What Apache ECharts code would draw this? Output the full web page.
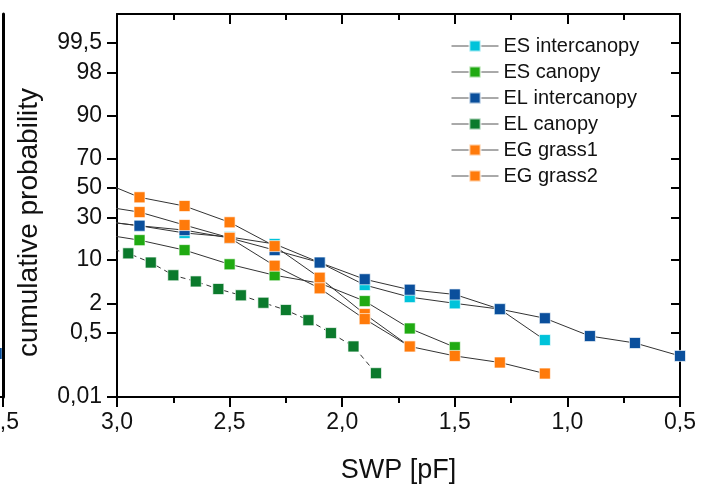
<!DOCTYPE html>
<html><head><meta charset="utf-8">
<script src="https://cdn.jsdelivr.net/npm/echarts@6/dist/echarts.min.js"></script>
<style>html,body{margin:0;padding:0;background:#fff}#c{width:713px;height:486px}</style>
</head><body><div id="c"></div>
<script>
// ---- data (cumulative probability in %, vs SWP in pF) ----
const seriesNames = ['ES intercanopy','ES canopy','EL intercanopy','EL canopy','EG grass1','EG grass2'];
const esInterX = [3.1,2.9,2.7,2.5,2.3,2.1,1.9,1.7,1.5,1.3,1.1];
const esInterP = [28.2,25.0,21.1,19.1,15.9,9.2,4.2,2.6,2.0,1.55,0.34];
const esCanX = [3.1,2.9,2.7,2.5,2.3,2.1,1.9,1.7,1.5];
const esCanP = [21.1,17.6,13.4,8.7,6.0,4.5,2.2,0.62,0.23];
const elInterX = [3.1,2.9,2.7,2.5,2.3,2.1,1.9,1.7,1.5,1.3,1.1,0.9,0.7,0.5];
const elInterP = [28.2,25.0,22.6,18.6,13.4,9.2,5.2,3.5,2.9,1.55,1.02,0.42,0.29,0.14];
const elCanX = [3.05,2.95,2.85,2.75,2.65,2.55,2.45,2.35,2.25,2.15,2.05,1.95,1.85];
const elCanP = [14.4,12.2,9.2,6.0,4.8,3.6,2.8,2.05,1.49,0.93,0.49,0.24,0.049];
const egGrass1X = [3.1,2.9,2.7,2.5,2.3,2.1,1.9,1.7,1.5,1.3,1.1];
const egGrass1P = [56.4,43.3,37.3,27.0,15.0,5.5,1.24,0.24,0.14,0.095,0.048];
const egGrass2X = [3.1,2.9,2.7,2.5,2.3,2.1,1.9,1.7];
const egGrass2P = [38.0,33.3,25.4,18.7,8.3,3.7,0.98,0.24];
// neighbouring (cropped) panel on the left edge
const neighborX = [0.53];
const neighborP = [0.16];
// ---- tick labels ----
const yTickP = [0.01,0.5,2,10,30,50,70,90,98,99.5];
const yTickLabels = ['0,01','0,5','2','10','30','50','70','90','98','99,5'];
const xTickValues = [0.5,1.0,1.5,2.0,2.5,3.0];
const xTickLabels = ['0,5','1,0','1,5','2,0','2,5','3,0'];
const yRangeP = [0.01, 99.9];
const xRange = [0.5, 3.0];

function probit(p){
  const a=[-3.969683028665376e+01,2.209460984245205e+02,-2.759285104469687e+02,1.383577518672690e+02,-3.066479806614716e+01,2.506628277459239e+00];
  const b=[-5.447609879822406e+01,1.615858368580409e+02,-1.556989798598866e+02,6.680131188771972e+01,-1.328068155288572e+01];
  const c=[-7.784894002430293e-03,-3.223964580411365e-01,-2.400758277161838e+00,-2.549671743506278e+00,4.374664141464968e+00,2.938163982698783e+00];
  const d=[7.784695709041462e-03,3.224671290700398e-01,2.445134137142996e+00,3.754408661907416e+00];
  const pl=0.02425, ph=1-pl; let q,r;
  if(p<pl){q=Math.sqrt(-2*Math.log(p));return (((((c[0]*q+c[1])*q+c[2])*q+c[3])*q+c[4])*q+c[5])/((((d[0]*q+d[1])*q+d[2])*q+d[3])*q+1);}
  if(p>ph){q=Math.sqrt(-2*Math.log(1-p));return -(((((c[0]*q+c[1])*q+c[2])*q+c[3])*q+c[4])*q+c[5])/((((d[0]*q+d[1])*q+d[2])*q+d[3])*q+1);}
  q=p-0.5;r=q*q;return (((((a[0]*r+a[1])*r+a[2])*r+a[3])*r+a[4])*r+a[5])*q/(((((b[0]*r+b[1])*r+b[2])*r+b[3])*r+b[4])*r+1);
}
const pts = (X,P) => X.map((x,i)=>[x, probit(P[i]/100)]);
const yTickZ = yTickP.map(p=>probit(p/100));
const yMin = probit(yRangeP[0]/100), yMax = probit(yRangeP[1]/100);
const yFmt = v => { let k=0,best=1e9; yTickZ.forEach((z,i)=>{const d=Math.abs(z-v); if(d<best){best=d;k=i;}}); return yTickLabels[k]; };
const xFmt = v => { let k=0,best=1e9; xTickValues.forEach((t,i)=>{const d=Math.abs(t-v); if(d<best){best=d;k=i;}}); return xTickLabels[k]; };

const FONT = 'Liberation Sans, Arial, sans-serif';
const AX = {onZero:false, lineStyle:{color:'#000', width:2}};
const colors = ['#00c3da','#20aa12','#0a4f9c','#0b7a2c','#ff7a0a','#ff7a0a'];
const dataSets = [pts(esInterX,esInterP),pts(esCanX,esCanP),pts(elInterX,elInterP),pts(elCanX,elCanP),pts(egGrass1X,egGrass1P),pts(egGrass2X,egGrass2P)];

const series = seriesNames.map((n,i)=>({
  name:n, type:'line', xAxisIndex:0, yAxisIndex:0, data:dataSets[i], clip:true,
  symbol:'rect', symbolSize:11, showSymbol:true,
  lineStyle:{color:'#333', width:1, type: i===3 ? [5,4] : 'solid'},
  itemStyle:{color:colors[i], borderColor:'rgba(255,255,255,0.65)', borderWidth:1},
  emphasis:{disabled:true}, animation:false
}));
series.push({
  name:'neighbor', type:'line', xAxisIndex:2, yAxisIndex:2, data:pts(neighborX,neighborP), clip:false,
  symbol:'rect', symbolSize:11, lineStyle:{color:'#333',width:1},
  itemStyle:{color:'#0a4f9c'}, animation:false
});

const chart = echarts.init(document.getElementById('c'), null, {renderer:'canvas'});
chart.setOption({
  animation:false,
  backgroundColor:'#fff',
  grid:[
    {left:117, right:33, top:14, bottom:89, outerBoundsMode:'none', containLabel:false},
    {left:-560, width:563, top:14, bottom:89, outerBoundsMode:'none', containLabel:false}
  ],
  legend:{
    data:seriesNames, orient:'vertical', left:446, top:31,
    itemWidth:47, itemHeight:14, itemGap:6,
    lineStyle:{type:'solid', color:'#555', width:1},
    textStyle:{fontSize:20, fontFamily:FONT, color:'#111', lineHeight:20},
    selectedMode:false
  },
  xAxis:[
    {gridIndex:0, type:'value', position:'bottom', min:xRange[0], max:xRange[1], interval:0.5, inverse:true,
     axisLine:AX, splitLine:{show:false},
     axisTick:{show:true, inside:false, length:10, lineStyle:{color:'#000', width:2}},
     minorTick:{show:true, splitNumber:2, length:6, lineStyle:{color:'#000', width:2}},
     axisLabel:{formatter:xFmt, fontSize:23, fontFamily:FONT, color:'#111', margin:14},
     name:'SWP [pF]', nameLocation:'middle', nameGap:60,
     nameTextStyle:{fontSize:27, fontFamily:FONT, color:'#111'}},
    {gridIndex:0, type:'value', position:'top', min:xRange[0], max:xRange[1], interval:0.5, inverse:true,
     axisLine:AX, splitLine:{show:false},
     axisTick:{show:true, inside:true, length:10, lineStyle:{color:'#000', width:2}},
     minorTick:{show:true, splitNumber:2, length:6, lineStyle:{color:'#000', width:2}},
     axisLabel:{show:false}},
    {gridIndex:1, type:'value', position:'bottom', min:xRange[0], max:xRange[1], interval:0.5, inverse:true,
     axisLine:AX, splitLine:{show:false},
     axisTick:{show:true, length:10, lineStyle:{color:'#000', width:2}},
     axisLabel:{formatter:xFmt, fontSize:23, fontFamily:FONT, color:'#111', margin:14}}
  ],
  yAxis:[
    {gridIndex:0, type:'value', position:'left', min:yMin, max:yMax,
     axisLine:AX, splitLine:{show:false},
     axisTick:{show:true, inside:false, length:10, customValues:yTickZ, lineStyle:{color:'#000', width:2}},
     axisLabel:{customValues:yTickZ, formatter:yFmt, fontSize:23, fontFamily:FONT, color:'#111', margin:15},
     name:'cumulative probability', nameLocation:'middle', nameGap:74, nameRotate:90,
     nameTextStyle:{fontSize:28, fontFamily:FONT, color:'#111', padding:[0,34,0,0]}},
    {gridIndex:0, type:'value', position:'right', min:yMin, max:yMax,
     axisLine:AX, splitLine:{show:false},
     axisTick:{show:true, inside:true, length:9, customValues:yTickZ, lineStyle:{color:'#000', width:2}},
     axisLabel:{show:false}},
    {gridIndex:1, type:'value', position:'right', min:yMin, max:yMax,
     axisLine:{onZero:false, lineStyle:{color:'#000', width:3}}, splitLine:{show:false},
     axisTick:{show:false}, axisLabel:{show:false}}
  ],
  series:series
});
</script></body></html>
